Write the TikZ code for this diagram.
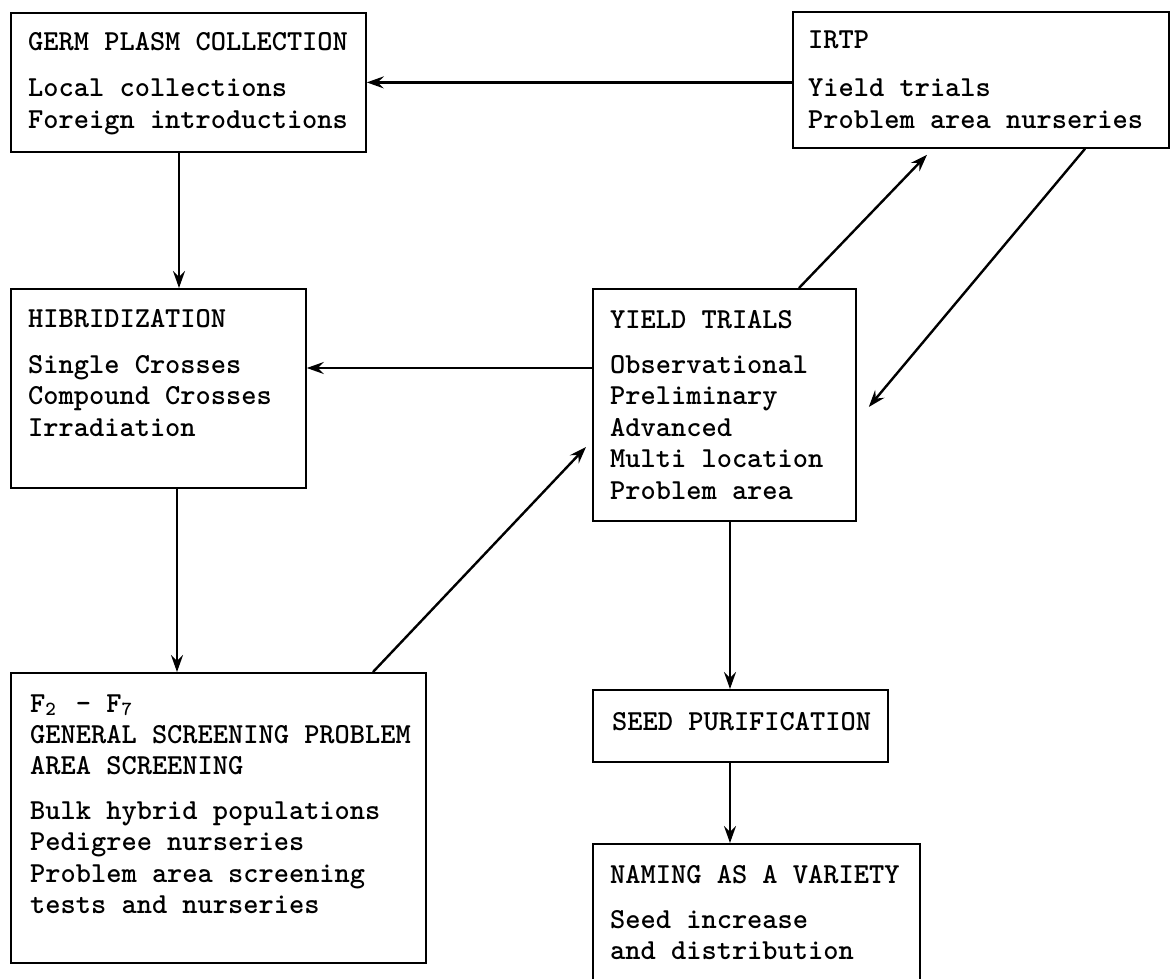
\documentclass[tikz,border=0pt]{standalone}
\usetikzlibrary{arrows.meta}
\newcommand\lowdigit[1]{\makebox[0.525em][l]{\raisebox{-3pt}{\fontsize{20}{20}\selectfont #1}}}
\begin{document}
\begin{tikzpicture}[x=1pt,y=-1pt,
  box/.style={draw=black, line width=1.8pt, inner sep=0pt, anchor=north west},
  txt/.style={anchor=north west, inner sep=0pt, align=left,
              font=\ttfamily\bfseries\fontsize{29}{31.5}\selectfont},
  arr/.style={line width=2.4pt, -{Stealth[length=17pt,width=12pt,inset=6pt]}}]
\useasboundingbox (0,0) rectangle (1176,979);
\clip (0,0) rectangle (1176,979);
\fill[white] (0,0) rectangle (1176,979);

% boxes
\node[box, minimum width=355pt, minimum height=139pt] (g) at (10,12) {};
\node[box, minimum width=376pt, minimum height=136pt] (i) at (792,11) {};
\node[box, minimum width=295pt, minimum height=199pt] (h) at (10,288) {};
\node[box, minimum width=263pt, minimum height=232pt] (y) at (592,288) {};
\node[box, minimum width=415pt, minimum height=290pt] (f) at (10,672) {};
\node[box, minimum width=295pt, minimum height=72pt] (s) at (592,689) {};
\node[box, minimum width=327pt, minimum height=200pt] (n) at (592,843) {};

% texts (first baseline = anchor y + 22)
\node[txt] (gt) at (28,28) {\rule{0pt}{22pt}GERM PLASM COLLECTION\\[15pt]
  Local collections\\Foreign introductions};
\node[txt] (it) at (808,26) {\rule{0pt}{22pt}IRTP\\[17pt]
  Yield trials\\Problem area nurseries};
\node[txt] (ht) at (28,305) {\rule{0pt}{22pt}HIBRIDIZATION\\[14.5pt]
  Single Crosses\\Compound Crosses\\Irradiation};
\node[txt] (yt) at (610,306) {\rule{0pt}{22pt}YIELD TRIALS\\[13.5pt]
  Observational\\Preliminary\\Advanced\\Multi location\\Problem area};
\node[txt] (ft) at (30,690) {\rule{0pt}{22pt}F\lowdigit{2} - F\lowdigit{7}\\[0pt]
  GENERAL SCREENING PROBLEM\\[-1pt]AREA SCREENING\\[13.5pt]
  Bulk hybrid populations\\Pedigree nurseries\\Problem area screening\\tests and nurseries};
\node[txt] (st) at (612,708) {\rule{0pt}{22pt}SEED PURIFICATION};
\node[txt] (nt) at (610,861) {\rule{0pt}{22pt}NAMING AS A VARIETY\\[13.5pt]
  Seed increase\\and distribution};

% connectors
\draw[arr] (i.west |- g.east) -- (g.east);
\draw[arr] ([xshift=169pt]g.south west) -- ([xshift=169pt]h.north west);
\draw[arr] ([yshift=-80pt]y.north west) -- ([yshift=-80pt]h.north east);
\draw[arr] ([xshift=167pt]h.south west) -- ([xshift=167pt]f.north west);
\draw[arr] ([xshift=363pt]f.north west) -- ([xshift=-6pt,yshift=-159pt]y.north west);
\draw[arr] ([xshift=207pt]y.north west) -- ([xshift=135pt,yshift=-6pt]i.south west);
\draw[arr] ([xshift=293pt]i.south west) -- ([xshift=12pt,yshift=-119pt]y.north east);
\draw[arr] ([xshift=138pt]y.south west) -- ([xshift=138pt]s.north west);
\draw[arr] ([xshift=138pt]s.south west) -- ([xshift=138pt]n.north west);
\end{tikzpicture}
\end{document}
